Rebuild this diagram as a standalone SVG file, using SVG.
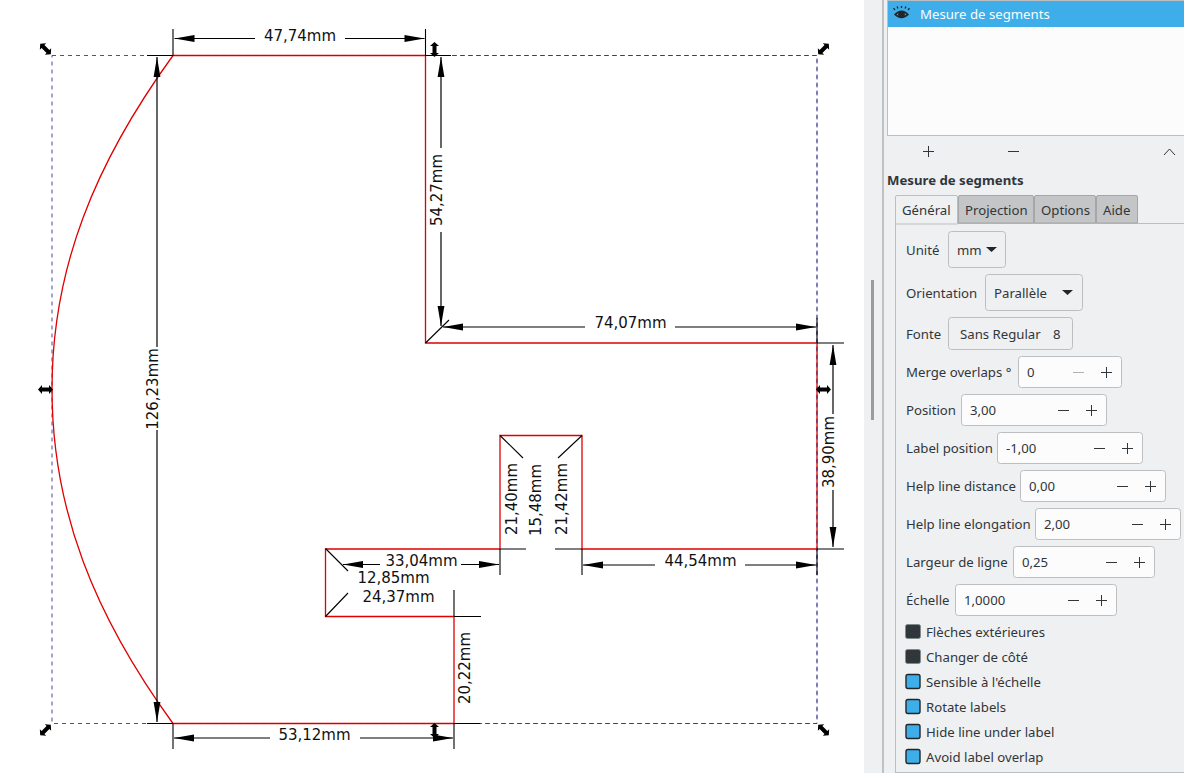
<svg xmlns="http://www.w3.org/2000/svg" xmlns:xlink="http://www.w3.org/1999/xlink" width="1184" height="773" viewBox="0 0 1184 773">
<style>
.dim{font:15px "DejaVu Sans",sans-serif;fill:#111;text-anchor:middle;dominant-baseline:central}
.ln{stroke:#000;stroke-width:1.1;fill:none}
.ar{stroke:#000;stroke-width:1.2;fill:none;marker-end:url(#ah)}
.ui{font:13.2px "Noto Sans",sans-serif;fill:#31363b;transform:translate(0,-0.5px)}
.box{fill:#fcfcfc;stroke:#bcbebf;stroke-width:1}
.btn{fill:#eff0f1;stroke:#bcbebf;stroke-width:1}
.tab{fill:#c4c5c6;stroke:#a5a6a7;stroke-width:1}
.pm{stroke:#31363b;stroke-width:1;fill:none}
.off{fill:#31363b;stroke:#7f8c8d;stroke-width:1}
.on{fill:#3daee9;stroke:#232629;stroke-width:1.4}
</style>
<defs>
<marker id="ah" markerUnits="userSpaceOnUse" markerWidth="22" markerHeight="10" refX="20" refY="4" orient="auto" overflow="visible">
<path d="M0,0.6 L0,7.4 L20,4 Z" fill="#000"/>
</marker>
<path id="hd" d="M-7.500,0 L-3.500,-4.500 L-3.500,-2 L3.500,-2 L3.500,-4.500 L7.500,0 L3.500,4.500 L3.500,2 L-3.500,2 L-3.500,4.500 Z" fill="#000"/>
</defs>
<rect width="1184" height="773" fill="#fff"/>

<g id="bbox"><rect x="52" y="55.5" width="765" height="668" fill="none" stroke="#4a4aa8" stroke-width="1" stroke-dasharray="4 4"/></g>
<g id="shape"><path d="M173,55.5 H425.5 V343 H817 V549 H582 V435.5 H500 V549 H325.5 V616.5 H454 V723.5 H173 C95,616 52,511 52,389 C52,268 95,163 173,55.5 Z" fill="none" stroke="#e00000" stroke-width="1.3"/></g>
<g id="bbox-over"><path d="M173,55.5 H817 V723.5 H173" fill="none" stroke="#33337f" stroke-width="0.8" stroke-dasharray="4 4"/></g>

<g id="connectors">
<path class="ln" d="M173,29 V55.5 M425.5,29 V55.5 M147,55.5 H173 M425.5,55.5 H451 M147,723.5 H173 M173,723.5 V749 M454,723.5 V749 M454,723.5 H480 M817,318 V343 M817,343 H844 M817,549 H844 M817,549 V575 M582,549 V575 M500,549 V575 M500,549 H526 M555,549 H582 M454,590 V616.5 M454,616.5 H481"/>
<path class="ln" d="M425.5,343 L449,320 M325.5,548.5 L348,571 M325.5,616.5 L348,593 M500,435.5 L523,458 M582,435.5 L558,458"/>
<path class="ar" d="M255,38.5 H174.5"/><path class="ar" d="M345,38.500 H424.5"/>
<path class="ar" d="M157,347 V57"/><path class="ar" d="M157,430 V722"/>
<path class="ar" d="M441,148 V57"/><path class="ar" d="M441,232 V326"/>
<path class="ar" d="M585,327 H443"/><path class="ar" d="M675,327 H816"/>
<path class="ar" d="M833,414 V345"/><path class="ar" d="M833,490 V547"/>
<path class="ar" d="M655,565 H583"/><path class="ar" d="M745,565 H816"/>
<path class="ar" d="M380,564.5 H343"/><path class="ar" d="M461,564.5 H499"/>
<path class="ar" d="M270,738 H174"/><path class="ar" d="M360,738 H453"/>
</g>

<g id="labels">
<text class="dim" x="300" y="36">47,74mm</text>
<text class="dim" x="630.500" y="323">74,07mm</text>
<text class="dim" x="700.500" y="561">44,54mm</text>
<text class="dim" x="421.500" y="561">33,04mm</text>
<text class="dim" x="393.500" y="578">12,85mm</text>
<text class="dim" x="398.500" y="597">24,37mm</text>
<text class="dim" x="314.500" y="735">53,12mm</text>
<text class="dim" transform="translate(153,389) rotate(-90)">126,23mm</text>
<text class="dim" transform="translate(437,190) rotate(-90)">54,27mm</text>
<text class="dim" transform="translate(829,452) rotate(-90)">38,90mm</text>
<text class="dim" transform="translate(512,499) rotate(-90)">21,40mm</text>
<text class="dim" transform="translate(536,500) rotate(-90)">15,48mm</text>
<text class="dim" transform="translate(562,499) rotate(-90)">21,42mm</text>
<text class="dim" transform="translate(465,668) rotate(-90)">20,22mm</text>
</g>

<g id="handles">
<use xlink:href="#hd" href="#hd" transform="translate(45.500,49) rotate(45)"/>
<use xlink:href="#hd" href="#hd" transform="translate(823.500,49) rotate(-45)"/>
<use xlink:href="#hd" href="#hd" transform="translate(45.500,730) rotate(-45)"/>
<use xlink:href="#hd" href="#hd" transform="translate(823.500,730) rotate(45)"/>
<use xlink:href="#hd" href="#hd" transform="translate(45.500,389.500)"/>
<use xlink:href="#hd" href="#hd" transform="translate(823.500,389.500)"/>
<use xlink:href="#hd" href="#hd" transform="translate(434.500,49.500) rotate(90)"/>
<use xlink:href="#hd" href="#hd" transform="translate(434.500,730.500) rotate(90)"/>
</g>

<g id="panel">
<rect x="864" y="0" width="320" height="773" fill="#eff0f1"/>
<rect x="871" y="280" width="3" height="140" fill="#9a9c9e"/>
<rect x="882" y="0" width="2" height="773" fill="#c0c1c2"/>
</g>

<g id="effects-list">
<rect x="887.500" y="0.500" width="300" height="135" fill="#fcfcfc" stroke="#bcbebf"/>
<rect x="888" y="1" width="296" height="26" fill="#3daee9"/>
<g id="eye" fill="#232629">
<path d="M894,14.500 Q901.500,6.500 909,14.500 Q901.500,22 894,14.500 Z M896.500,14.500 Q901.500,18.500 906.500,14.500 Q901.500,10 896.500,14.500 Z" fill-rule="evenodd"/>
<circle cx="901.500" cy="14.500" r="3.400"/>
<path d="M895,10 L893.500,8.200 M898,8.500 L897,6.500 M901.500,8 V6 M905,8.500 L906,6.500 M908,10 L909.500,8.200" stroke="#232629" stroke-width="1.300"/>
</g>
<text class="ui" x="920" y="19" style="fill:#fcfcfc">Mesure de segments</text>
<path class="pm" d="M923,151.500 H934 M928.500,146 V157 M1008,151.500 H1019 M1164,155 L1169.500,149 L1175,155"/>
</g>

<text id="title" class="ui" x="887" y="185" style="font-weight:700">Mesure de segments</text>

<g id="tabs">
<rect x="895.500" y="223.500" width="300" height="549" fill="#eff0f1" stroke="#bcbebf"/>
<path class="tab" d="M958.500,223 V197 Q958.500,195.500 960,195.500 H1032 Q1033.500,195.500 1033.500,197 V223 Z"/>
<path class="tab" d="M1034.500,223 V197 Q1034.500,195.500 1036,195.500 H1094 Q1095.500,195.500 1095.500,197 V223 Z"/>
<path class="tab" d="M1096.500,223 V197 Q1096.500,195.500 1098,195.500 H1136 Q1137.500,195.500 1137.500,197 V223 Z"/>
<path d="M895.500,224 V197 Q895.500,195.500 897,195.500 H956 Q957.500,195.500 957.500,197 V224 Z" fill="#eff0f1" stroke="#bcbebf"/>
<text class="ui" x="902" y="215">Général</text>
<text class="ui" x="965" y="215">Projection</text>
<text class="ui" x="1041" y="215">Options</text>
<text class="ui" x="1103" y="215">Aide</text>
</g>

<g id="form">
<text class="ui" x="906" y="255">Unité</text>
<rect class="btn" x="948.500" y="231.500" width="57" height="36" rx="3"/>
<text class="ui" x="957" y="255">mm</text>
<path d="M986,247 H997 L991.500,252 Z" fill="#232629"/>

<text class="ui" x="906" y="298">Orientation</text>
<rect class="btn" x="985.500" y="274.500" width="97" height="36" rx="3"/>
<text class="ui" x="994" y="298">Parallèle</text>
<path d="M1062,290 H1073 L1067.500,295 Z" fill="#232629"/>

<text class="ui" x="906" y="339">Fonte</text>
<rect class="btn" x="948.500" y="317.500" width="124" height="32" rx="3"/>
<text class="ui" x="960" y="339">Sans Regular</text>
<text class="ui" x="1053" y="339">8</text>

<text class="ui" x="906" y="377">Merge overlaps °</text>
<rect class="box" x="1018.500" y="356.500" width="103" height="31" rx="3"/>
<text class="ui" x="1027" y="377">0</text>
<path d="M1073,372.500 H1084" stroke="#b0b2b4" fill="none"/>
<path class="pm" d="M1101,372.500 H1112 M1106.500,367 V378"/>

<text class="ui" x="906" y="415">Position</text>
<rect class="box" x="961.500" y="394.500" width="145" height="31" rx="3"/>
<text class="ui" x="970" y="415">3,00</text>
<path class="pm" d="M1058,410.500 H1069 M1086,410.500 H1097 M1091.500,405 V416"/>

<text class="ui" x="906" y="453">Label position</text>
<rect class="box" x="997.500" y="432.500" width="145" height="31" rx="3"/>
<text class="ui" x="1006" y="453">-1,00</text>
<path class="pm" d="M1094,448.500 H1105 M1122,448.500 H1133 M1127.500,443 V454"/>

<text class="ui" x="906" y="491">Help line distance</text>
<rect class="box" x="1020.500" y="470.500" width="145" height="31" rx="3"/>
<text class="ui" x="1029" y="491">0,00</text>
<path class="pm" d="M1117,486.500 H1128 M1145,486.500 H1156 M1150.500,481 V492"/>

<text class="ui" x="906" y="529">Help line elongation</text>
<rect class="box" x="1035.500" y="508.500" width="145" height="31" rx="3"/>
<text class="ui" x="1044" y="529">2,00</text>
<path class="pm" d="M1132,524.500 H1143 M1160,524.500 H1171 M1165.500,519 V530"/>

<text class="ui" x="906" y="567">Largeur de ligne</text>
<rect class="box" x="1013.500" y="546.500" width="141" height="31" rx="3"/>
<text class="ui" x="1022" y="567">0,25</text>
<path class="pm" d="M1106,562.500 H1117 M1134,562.500 H1145 M1139.500,557 V568"/>

<text class="ui" x="906" y="605">Échelle</text>
<rect class="box" x="955.500" y="584.500" width="161" height="31" rx="3"/>
<text class="ui" x="964" y="605">1,0000</text>
<path class="pm" d="M1068,600.500 H1079 M1096,600.500 H1107 M1101.500,595 V606"/>
</g>

<g id="checks">
<rect class="off" x="905.500" y="624.500" width="15" height="14" rx="2"/>
<text class="ui" x="926" y="637">Flèches extérieures</text>
<rect class="off" x="905.500" y="649.500" width="15" height="14" rx="2"/>
<text class="ui" x="926" y="662">Changer de côté</text>
<rect class="on" x="906" y="674.500" width="14" height="14" rx="2"/>
<text class="ui" x="926" y="687">Sensible à l'échelle</text>
<rect class="on" x="906" y="699.500" width="14" height="14" rx="2"/>
<text class="ui" x="926" y="712">Rotate labels</text>
<rect class="on" x="906" y="724.500" width="14" height="14" rx="2"/>
<text class="ui" x="926" y="737">Hide line under label</text>
<rect class="on" x="906" y="749.500" width="14" height="14" rx="2"/>
<text class="ui" x="926" y="762">Avoid label overlap</text>
</g>
</svg>
